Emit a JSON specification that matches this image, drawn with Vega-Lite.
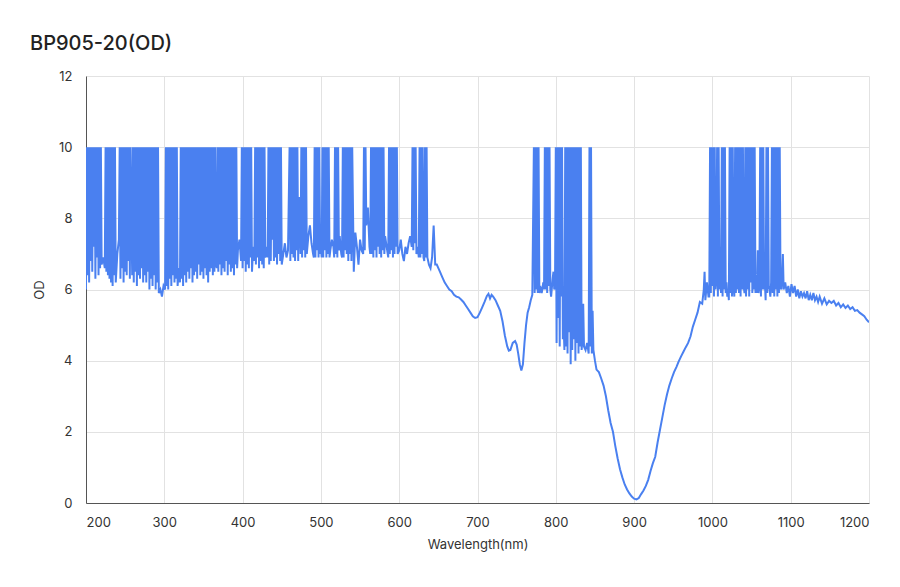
{
 "$schema": "https://vega.github.io/schema/vega-lite/v6.json",
 "width": 783, "height": 427,
 "autosize": {"type": "none"},
 "padding": {"left": 86, "top": 76, "right": 31, "bottom": 84},
 "background": "white",
 "title": {"text": "BP905-20(OD)", "anchor": "start", "frame": "group", "dx": -56, "offset": 16, "fontSize": 20, "fontWeight": 500, "color": "#222222", "font": "Inter"},
 "config": {"view": {"stroke": null}, "font": "Inter"},
 "data": {"values": [
{"w":200,"od":6.0},{"w":201,"od":10},{"w":202,"od":6.4},{"w":203,"od":10},{"w":204,"od":6.2},{"w":205,"od":10},{"w":206,"od":6.8},{"w":207,"od":10},{"w":208,"od":6.5},{"w":209,"od":10},
{"w":210,"od":7.2},{"w":211,"od":10},{"w":212,"od":6.3},{"w":213,"od":10},{"w":214,"od":6.9},{"w":215,"od":10},{"w":216,"od":6.4},{"w":217,"od":10},{"w":218,"od":6.6},{"w":219,"od":10},
{"w":220,"od":6.7},{"w":222,"od":6.9},{"w":224,"od":6.6},{"w":225,"od":10},{"w":226,"od":6.5},{"w":227,"od":10},{"w":228,"od":6.4},{"w":229,"od":10},
{"w":230,"od":6.3},{"w":231,"od":10},{"w":232,"od":6.2},{"w":233,"od":10},{"w":234,"od":6.1},{"w":235,"od":10},{"w":236,"od":6.4},{"w":237,"od":10},{"w":238,"od":6.2},
{"w":240,"od":7.0},{"w":242,"od":7.4},{"w":243,"od":10},{"w":244,"od":6.3},{"w":245,"od":10},{"w":246,"od":6.6},{"w":247,"od":10},{"w":248,"od":6.2},{"w":249,"od":10},{"w":250,"od":6.5},
{"w":251,"od":10},{"w":252,"od":6.4},{"w":253,"od":10},{"w":254,"od":6.8},{"w":255,"od":10},{"w":256,"od":6.3},{"w":257,"od":10},{"w":258,"od":7.9},{"w":259,"od":6.4},
{"w":260,"od":10},{"w":261,"od":6.2},{"w":262,"od":10},{"w":263,"od":6.5},{"w":264,"od":10},{"w":265,"od":6.1},{"w":266,"od":10},{"w":267,"od":6.4},{"w":268,"od":10},{"w":269,"od":6.3},
{"w":270,"od":10},{"w":271,"od":6.6},{"w":272,"od":10},{"w":273,"od":6.2},{"w":274,"od":10},{"w":275,"od":6.4},{"w":276,"od":10},{"w":277,"od":6.2},{"w":278,"od":10},{"w":279,"od":6.5},
{"w":280,"od":10},{"w":281,"od":6.0},{"w":282,"od":10},{"w":283,"od":6.3},{"w":284,"od":10},{"w":285,"od":6.1},{"w":286,"od":10},{"w":287,"od":6.4},{"w":288,"od":10},{"w":289,"od":6.0},
{"w":290,"od":10},{"w":291,"od":6.2},{"w":292,"od":10},{"w":293,"od":5.9},{"w":295,"od":6.0},{"w":297,"od":5.8},{"w":299,"od":6.1},{"w":301,"od":6.0},
{"w":302,"od":10},{"w":303,"od":6.1},{"w":304,"od":10},{"w":305,"od":6.0},{"w":306,"od":10},{"w":307,"od":6.3},{"w":308,"od":10},{"w":309,"od":6.1},{"w":310,"od":10},{"w":311,"od":6.4},
{"w":312,"od":10},{"w":313,"od":6.2},{"w":314,"od":10},{"w":315,"od":6.3},{"w":316,"od":10},{"w":317,"od":6.1},{"w":318,"od":6.4},{"w":319,"od":6.6},{"w":320,"od":6.2},
{"w":321,"od":10},{"w":322,"od":6.3},{"w":323,"od":10},{"w":324,"od":6.1},{"w":325,"od":10},{"w":326,"od":6.4},{"w":327,"od":10},{"w":328,"od":6.2},{"w":329,"od":10},{"w":330,"od":6.5},
{"w":331,"od":10},{"w":332,"od":6.3},{"w":333,"od":10},{"w":334,"od":6.6},{"w":335,"od":10},{"w":336,"od":6.2},{"w":337,"od":10},{"w":338,"od":6.4},{"w":339,"od":10},{"w":340,"od":6.5},
{"w":341,"od":10},{"w":342,"od":6.3},{"w":343,"od":10},{"w":344,"od":6.7},{"w":345,"od":10},{"w":346,"od":6.4},{"w":347,"od":10},{"w":348,"od":6.5},{"w":349,"od":10},{"w":350,"od":6.3},
{"w":351,"od":10},{"w":352,"od":6.6},{"w":353,"od":10},{"w":354,"od":6.4},{"w":355,"od":10},{"w":356,"od":6.2},{"w":357,"od":10},{"w":358,"od":6.5},{"w":359,"od":10},{"w":360,"od":6.6},
{"w":361,"od":10},{"w":362,"od":6.4},{"w":363,"od":10},{"w":364,"od":6.5},{"w":365,"od":10},{"w":366,"od":6.7},{"w":367,"od":6.6},
{"w":368,"od":10},{"w":369,"od":6.5},{"w":370,"od":10},{"w":371,"od":6.7},{"w":372,"od":10},{"w":373,"od":6.4},{"w":374,"od":10},{"w":375,"od":6.6},{"w":376,"od":10},{"w":377,"od":6.5},
{"w":378,"od":10},{"w":379,"od":6.8},{"w":380,"od":10},{"w":381,"od":6.4},{"w":382,"od":10},{"w":383,"od":6.7},{"w":384,"od":10},{"w":385,"od":6.5},{"w":386,"od":10},{"w":387,"od":6.6},
{"w":388,"od":10},{"w":389,"od":6.4},{"w":390,"od":10},{"w":391,"od":6.7},{"w":392,"od":10},{"w":393,"od":6.6},{"w":394,"od":7.1},{"w":396,"od":7.4},{"w":398,"od":6.8},
{"w":399,"od":10},{"w":400,"od":6.6},{"w":401,"od":10},{"w":402,"od":6.8},{"w":403,"od":10},{"w":404,"od":6.5},{"w":405,"od":10},{"w":406,"od":6.7},{"w":407,"od":10},{"w":408,"od":6.6},
{"w":409,"od":10},{"w":410,"od":6.9},{"w":411,"od":10},{"w":412,"od":6.5},{"w":413,"od":7.0},{"w":414,"od":7.2},{"w":415,"od":6.8},
{"w":416,"od":10},{"w":417,"od":6.7},{"w":418,"od":10},{"w":419,"od":6.9},{"w":420,"od":10},{"w":421,"od":6.6},{"w":422,"od":10},{"w":423,"od":6.8},{"w":424,"od":10},{"w":425,"od":6.7},
{"w":426,"od":10},{"w":427,"od":6.6},{"w":428,"od":10},{"w":429,"od":6.9},{"w":430,"od":7.0},{"w":431,"od":7.2},{"w":432,"od":6.9},
{"w":433,"od":10},{"w":434,"od":6.7},{"w":435,"od":10},{"w":436,"od":6.8},{"w":437,"od":10},{"w":438,"od":7.4},
{"w":439,"od":10},{"w":440,"od":6.8},{"w":441,"od":10},{"w":442,"od":6.9},{"w":443,"od":10},{"w":444,"od":6.7},{"w":445,"od":10},{"w":446,"od":7.0},{"w":447,"od":10},{"w":448,"od":6.8},
{"w":449,"od":10},{"w":450,"od":6.7},{"w":452,"od":7.0},{"w":454,"od":7.3},{"w":456,"od":6.9},{"w":458,"od":7.1},
{"w":460,"od":10},{"w":461,"od":6.8},{"w":462,"od":10},{"w":463,"od":7.0},{"w":464,"od":10},{"w":465,"od":6.9},{"w":466,"od":10},{"w":467,"od":6.8},{"w":468,"od":10},{"w":469,"od":7.1},
{"w":470,"od":10},{"w":471,"od":6.8},{"w":472,"od":8.6},{"w":474,"od":7.0},
{"w":475,"od":10},{"w":476,"od":6.9},{"w":477,"od":10},{"w":478,"od":7.1},{"w":479,"od":10},{"w":480,"od":6.9},{"w":481,"od":10},{"w":482,"od":7.0},
{"w":484,"od":7.5},{"w":486,"od":7.8},{"w":488,"od":7.3},{"w":490,"od":7.0},{"w":491,"od":6.9},
{"w":492,"od":10},{"w":493,"od":6.9},{"w":494,"od":10},{"w":495,"od":7.1},{"w":496,"od":10},{"w":497,"od":6.9},{"w":498,"od":10},{"w":499,"od":7.0},{"w":500,"od":7.2},{"w":501,"od":6.9},
{"w":502,"od":10},{"w":503,"od":6.9},{"w":504,"od":10},{"w":505,"od":7.1},{"w":506,"od":10},{"w":507,"od":6.9},{"w":508,"od":10},{"w":509,"od":7.0},{"w":510,"od":10},{"w":511,"od":6.9},
{"w":512,"od":7.1},{"w":514,"od":7.4},{"w":516,"od":7.2},{"w":517,"od":6.9},
{"w":518,"od":10},{"w":519,"od":7.0},{"w":520,"od":10},{"w":521,"od":6.9},{"w":522,"od":10},{"w":523,"od":7.1},{"w":524,"od":7.5},{"w":526,"od":7.0},{"w":527,"od":6.9},
{"w":528,"od":10},{"w":529,"od":6.9},{"w":530,"od":10},{"w":531,"od":7.1},{"w":532,"od":10},{"w":533,"od":7.0},{"w":534,"od":10},{"w":535,"od":6.8},{"w":536,"od":10},{"w":537,"od":7.0},
{"w":538,"od":10},{"w":539,"od":6.8},{"w":540,"od":10},{"w":542,"od":6.5},{"w":544,"od":7.6},{"w":546,"od":7.2},{"w":548,"od":6.7},{"w":550,"od":7.4},{"w":552,"od":7.1},{"w":554,"od":7.0},
{"w":555,"od":10},{"w":556,"od":7.1},{"w":557,"od":10},{"w":558,"od":7.8},{"w":560,"od":8.3},{"w":562,"od":7.2},{"w":563,"od":7.0},
{"w":564,"od":10},{"w":565,"od":7.0},{"w":566,"od":10},{"w":567,"od":6.9},{"w":568,"od":10},{"w":569,"od":7.1},{"w":570,"od":10},{"w":571,"od":6.9},{"w":572,"od":10},{"w":573,"od":7.2},
{"w":574,"od":10},{"w":575,"od":7.0},{"w":576,"od":10},{"w":577,"od":6.9},{"w":578,"od":10},{"w":579,"od":7.1},{"w":580,"od":10},{"w":581,"od":7.0},
{"w":582,"od":7.5},{"w":584,"od":7.2},{"w":586,"od":6.9},
{"w":587,"od":10},{"w":588,"od":7.0},{"w":589,"od":10},{"w":590,"od":7.1},{"w":591,"od":10},{"w":592,"od":6.9},{"w":593,"od":10},{"w":594,"od":7.0},{"w":595,"od":10},{"w":596,"od":7.2},
{"w":597,"od":10},{"w":598,"od":7.0},{"w":600,"od":7.1},{"w":602,"od":7.4},{"w":604,"od":7.0},{"w":606,"od":6.8},{"w":608,"od":7.2},{"w":610,"od":7.0},{"w":612,"od":7.3},{"w":614,"od":7.5},
{"w":616,"od":7.2},{"w":617,"od":10},{"w":618,"od":7.1},{"w":619,"od":10},{"w":620,"od":7.3},{"w":621,"od":10},{"w":622,"od":7.0},{"w":624,"od":7.2},{"w":625,"od":6.9},
{"w":626,"od":10},{"w":627,"od":6.9},{"w":628,"od":10},{"w":629,"od":7.0},{"w":630,"od":10},{"w":631,"od":6.9},{"w":632,"od":6.8},{"w":633,"od":10},{"w":634,"od":6.9},{"w":635,"od":10},
{"w":636,"od":6.9},{"w":638,"od":6.7},{"w":640,"od":6.6},{"w":642,"od":6.9},{"w":644,"od":7.8},{"w":646,"od":6.7},{"w":648,"od":6.7},{"w":650,"od":6.6},{"w":652,"od":6.5},{"w":655,"od":6.35},
{"w":658,"od":6.2},{"w":661,"od":6.1},{"w":664,"od":6.0},{"w":667,"od":5.95},{"w":670,"od":5.85},{"w":673,"od":5.8},{"w":676,"od":5.78},{"w":679,"od":5.72},{"w":682,"od":5.65},{"w":685,"od":5.55},
{"w":688,"od":5.45},{"w":691,"od":5.35},{"w":694,"od":5.25},{"w":697,"od":5.2},{"w":700,"od":5.22},{"w":703,"od":5.35},{"w":706,"od":5.5},{"w":709,"od":5.65},{"w":712,"od":5.82},{"w":714,"od":5.88},
{"w":716,"od":5.75},{"w":718,"od":5.85},{"w":720,"od":5.8},{"w":723,"od":5.7},{"w":726,"od":5.55},{"w":729,"od":5.4},{"w":732,"od":5.1},{"w":735,"od":4.7},{"w":738,"od":4.4},{"w":740,"od":4.28},
{"w":742,"od":4.3},{"w":745,"od":4.5},{"w":748,"od":4.55},{"w":750,"od":4.45},{"w":752,"od":4.2},{"w":754,"od":3.9},{"w":756,"od":3.72},{"w":758,"od":3.9},{"w":760,"od":4.5},{"w":762,"od":5.0},
{"w":764,"od":5.35},{"w":766,"od":5.5},{"w":768,"od":5.7},{"w":770,"od":5.85},{"w":772,"od":10},{"w":773,"od":5.9},{"w":774,"od":10},{"w":775,"od":6.0},{"w":776,"od":10},{"w":777,"od":5.9},
{"w":778,"od":10},{"w":779,"od":5.9},{"w":780,"od":6.1},{"w":782,"od":5.9},{"w":784,"od":6.2},{"w":785,"od":6.0},{"w":786,"od":10},{"w":787,"od":6.0},{"w":788,"od":10},{"w":789,"od":5.9},
{"w":790,"od":10},{"w":791,"od":6.1},{"w":792,"od":10},{"w":793,"od":6.0},{"w":794,"od":5.8},{"w":796,"od":6.3},{"w":797,"od":6.5},{"w":798,"od":6.0},{"w":799,"od":6.1},
{"w":800,"od":10},{"w":801,"od":4.5},{"w":802,"od":10},{"w":803,"od":5.2},{"w":804,"od":10},{"w":805,"od":4.4},{"w":806,"od":10},{"w":807,"od":5.8},{"w":808,"od":10},{"w":809,"od":4.6},
{"w":810,"od":5.0},{"w":811,"od":4.3},{"w":812,"od":10},{"w":813,"od":4.4},{"w":814,"od":10},{"w":815,"od":4.2},{"w":816,"od":10},{"w":817,"od":4.8},{"w":818,"od":10},{"w":819,"od":3.9},
{"w":820,"od":10},{"w":821,"od":4.3},{"w":822,"od":10},{"w":823,"od":4.6},{"w":824,"od":10},{"w":825,"od":4.0},{"w":826,"od":10},{"w":827,"od":4.5},{"w":828,"od":10},{"w":829,"od":4.2},
{"w":830,"od":10},{"w":831,"od":4.4},{"w":832,"od":10},{"w":833,"od":4.3},{"w":834,"od":4.6},{"w":835,"od":5.6},{"w":836,"od":4.4},{"w":838,"od":4.3},{"w":840,"od":4.5},{"w":842,"od":4.2},
{"w":843,"od":10},{"w":844,"od":4.4},{"w":845,"od":10},{"w":846,"od":4.2},{"w":847,"od":5.4},{"w":848,"od":4.3},{"w":850,"od":4.0},
{"w":852,"od":3.75},{"w":855,"od":3.68},{"w":858,"od":3.5},{"w":861,"od":3.3},{"w":864,"od":3.0},{"w":867,"od":2.6},{"w":870,"od":2.25},{"w":873,"od":2.0},{"w":876,"od":1.6},{"w":879,"od":1.25},
{"w":882,"od":0.95},{"w":885,"od":0.72},{"w":888,"od":0.52},{"w":891,"od":0.38},{"w":894,"od":0.27},{"w":897,"od":0.18},{"w":900,"od":0.12},{"w":903,"od":0.1},{"w":906,"od":0.14},{"w":909,"od":0.25},
{"w":912,"od":0.35},{"w":915,"od":0.48},{"w":918,"od":0.65},{"w":921,"od":0.9},{"w":924,"od":1.12},{"w":927,"od":1.3},{"w":930,"od":1.7},{"w":933,"od":2.05},{"w":936,"od":2.4},{"w":939,"od":2.75},
{"w":942,"od":3.05},{"w":945,"od":3.3},{"w":948,"od":3.5},{"w":951,"od":3.68},{"w":954,"od":3.82},{"w":957,"od":3.98},{"w":960,"od":4.12},{"w":963,"od":4.25},{"w":966,"od":4.38},{"w":969,"od":4.5},
{"w":972,"od":4.68},{"w":975,"od":4.95},{"w":978,"od":5.15},{"w":981,"od":5.35},{"w":984,"od":5.65},{"w":987,"od":5.6},{"w":989,"od":6.0},{"w":990,"od":6.5},{"w":991,"od":5.7},{"w":993,"od":6.2},
{"w":995,"od":5.8},{"w":996,"od":5.8},{"w":997,"od":10},{"w":998,"od":5.9},{"w":999,"od":10},{"w":1000,"od":6.1},{"w":1001,"od":10},{"w":1002,"od":5.8},{"w":1003,"od":10},{"w":1004,"od":6.0},
{"w":1005,"od":6.3},{"w":1006,"od":10},{"w":1007,"od":5.8},{"w":1008,"od":10},{"w":1009,"od":6.0},{"w":1010,"od":7.2},{"w":1011,"od":5.9},{"w":1012,"od":10},{"w":1013,"od":5.8},{"w":1014,"od":10},
{"w":1015,"od":6.0},{"w":1016,"od":10},{"w":1017,"od":5.9},{"w":1018,"od":6.2},{"w":1019,"od":5.8},{"w":1020,"od":6.0},{"w":1021,"od":5.7},{"w":1022,"od":10},{"w":1023,"od":5.9},{"w":1024,"od":10},
{"w":1025,"od":5.8},{"w":1026,"od":10},{"w":1027,"od":6.1},{"w":1028,"od":5.8},{"w":1029,"od":10},{"w":1030,"od":5.9},{"w":1031,"od":10},{"w":1032,"od":6.0},{"w":1033,"od":10},{"w":1034,"od":5.9},
{"w":1035,"od":10},{"w":1036,"od":5.8},{"w":1037,"od":10},{"w":1038,"od":6.0},{"w":1039,"od":10},{"w":1040,"od":6.1},{"w":1041,"od":5.9},{"w":1042,"od":10},{"w":1043,"od":5.8},{"w":1044,"od":10},
{"w":1045,"od":6.0},{"w":1046,"od":10},{"w":1047,"od":5.8},{"w":1048,"od":10},{"w":1049,"od":6.2},{"w":1050,"od":10},{"w":1051,"od":5.9},{"w":1052,"od":10},{"w":1053,"od":6.0},{"w":1054,"od":10},
{"w":1055,"od":5.9},{"w":1056,"od":6.3},{"w":1057,"od":5.9},{"w":1058,"od":7.1},{"w":1059,"od":5.9},{"w":1060,"od":6.1},{"w":1061,"od":10},{"w":1062,"od":5.8},{"w":1063,"od":10},{"w":1064,"od":6.0},
{"w":1065,"od":10},{"w":1066,"od":6.0},{"w":1067,"od":6.2},{"w":1068,"od":5.7},{"w":1069,"od":10},{"w":1070,"od":5.9},{"w":1071,"od":10},{"w":1072,"od":6.1},{"w":1073,"od":6.0},{"w":1074,"od":5.8},
{"w":1075,"od":6.2},{"w":1076,"od":10},{"w":1077,"od":5.9},{"w":1078,"od":10},{"w":1079,"od":5.8},{"w":1080,"od":10},{"w":1081,"od":6.0},{"w":1082,"od":10},{"w":1083,"od":5.8},{"w":1084,"od":10},
{"w":1085,"od":5.9},{"w":1086,"od":10},{"w":1087,"od":6.1},{"w":1088,"od":6.0},{"w":1089,"od":6.3},{"w":1090,"od":7.0},{"w":1091,"od":6.0},
{"w":1093,"od":6.2},{"w":1095,"od":5.9},{"w":1097,"od":6.1},{"w":1099,"od":5.8},{"w":1101,"od":6.15},{"w":1103,"od":5.9},{"w":1105,"od":6.1},{"w":1107,"od":5.8},{"w":1109,"od":6.0},{"w":1111,"od":5.75},
{"w":1113,"od":5.95},{"w":1115,"od":5.8},{"w":1117,"od":5.9},{"w":1119,"od":5.75},{"w":1121,"od":5.95},{"w":1123,"od":5.7},{"w":1125,"od":5.85},{"w":1127,"od":5.7},{"w":1129,"od":5.9},{"w":1131,"od":5.7},
{"w":1133,"od":5.8},{"w":1135,"od":5.65},{"w":1137,"od":5.8},{"w":1140,"od":5.6},{"w":1143,"od":5.75},{"w":1146,"od":5.58},{"w":1149,"od":5.68},{"w":1152,"od":5.62},{"w":1155,"od":5.68},{"w":1158,"od":5.55},
{"w":1161,"od":5.62},{"w":1164,"od":5.5},{"w":1167,"od":5.58},{"w":1170,"od":5.48},{"w":1173,"od":5.55},{"w":1176,"od":5.45},{"w":1179,"od":5.5},{"w":1182,"od":5.4},{"w":1185,"od":5.42},{"w":1188,"od":5.35},
{"w":1191,"od":5.3},{"w":1194,"od":5.25},{"w":1197,"od":5.15},{"w":1200,"od":5.08}
 ]},
 "mark": {"type": "line", "color": "#4a80f0", "strokeWidth": 2, "clip": true},
 "encoding": {
  "x": {"field": "w", "type": "quantitative", "scale": {"domain": [200, 1200], "nice": false, "zero": false},
   "axis": {"values": [200, 300, 400, 500, 600, 700, 800, 900, 1000, 1100, 1200], "format": "d", "title": "Wavelength(nm)", "grid": true, "gridColor": "#e2e2e2", "domainColor": "#555555", "ticks": false, "labelPadding": 13, "labelFontSize": 13, "labelColor": "#333333", "titleFontSize": 13, "titleFontWeight": "normal", "titleColor": "#333333", "titlePadding": 9, "labelFont": "Inter", "titleFont": "Inter"}},
  "y": {"field": "od", "type": "quantitative", "scale": {"domain": [0, 12], "nice": false},
   "axis": {"values": [0, 2, 4, 6, 8, 10, 12], "title": "OD", "grid": true, "gridColor": "#e2e2e2", "domainColor": "#555555", "ticks": false, "labelPadding": 14, "labelFontSize": 13, "labelColor": "#333333", "titleFontSize": 13, "titleFontWeight": "normal", "titleColor": "#333333", "titlePadding": 12, "labelFont": "Inter", "titleFont": "Inter"}}
 }
}
